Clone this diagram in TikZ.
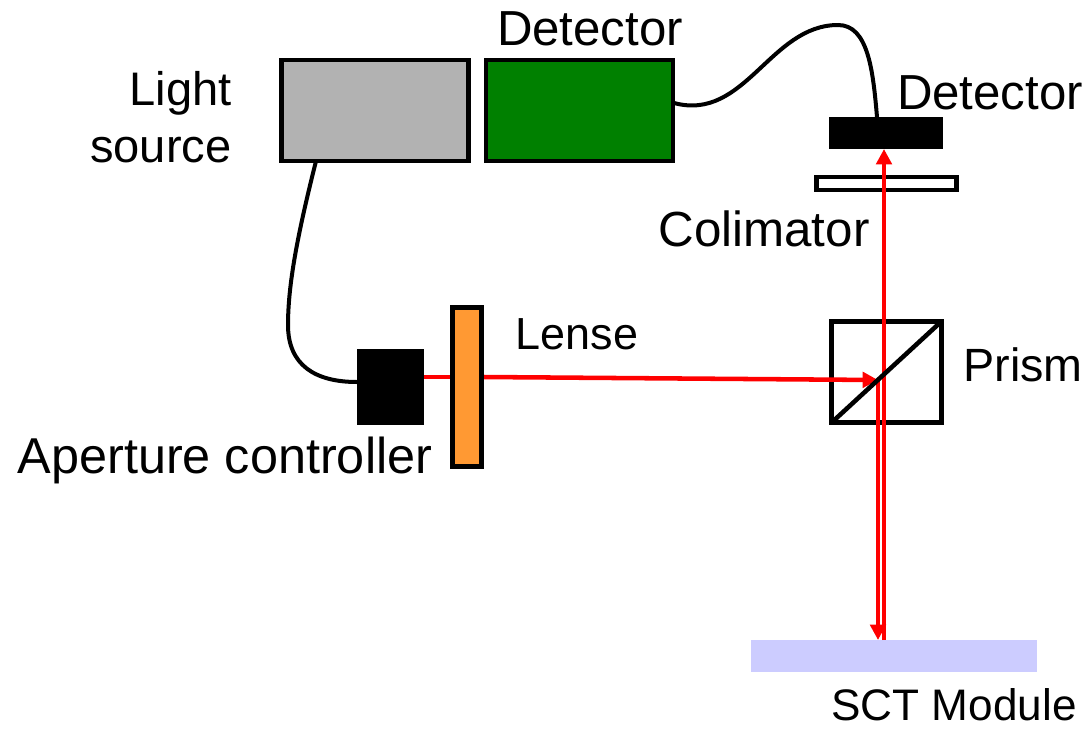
\documentclass[tikz,border=0pt]{standalone}
\usepackage{fontspec}
\setmainfont{Liberation Sans}
\usetikzlibrary{arrows.meta}

\definecolor{srcgray}{RGB}{178,178,178}
\definecolor{detgreen}{RGB}{0,128,0}
\definecolor{lensorange}{RGB}{255,153,51}
\definecolor{modblue}{RGB}{204,204,255}

\tikzset{every picture/.style={line width=0.75pt}}
\tikzset{
	part/.style={draw=black,line width=3.4pt,outer sep=0pt,inner sep=0pt,minimum width=#1},
	solid part/.style={fill=black,outer sep=0pt,inner sep=0pt,minimum width=#1},
	label text/.style={inner sep=0.75pt,font=\fontsize{#1}{43}\selectfont},
	cable/.style={draw=black,line width=3pt},
	ray/.style={draw=red,line width=3.4pt},
	ray tip/.style={-{Triangle[length=11.5pt,width=11.5pt]}}
}

\begin{document}
\begin{tikzpicture}[x=0.75pt,y=0.75pt,yscale=-1,xscale=1]
		\useasboundingbox (0,0) rectangle (1088,728);

		%Shape: Boxes
		\node [part=140.5pt,minimum height=75.5pt,fill=srcgray] (source) at (375,110.5) {};
		\node [part=140.5pt,minimum height=75.5pt,fill=detgreen] (box) at (579.5,110.5) {};
		\node [solid part=85pt,minimum height=24pt] (detector) at (886,133) {};
		\node [part=105pt,minimum height=9.5pt,fill=white] (colimator) at (886.5,183.5) {};
		\node [solid part=50pt,minimum height=57pt] (aperture) at (390.5,387) {};
		\node [part=82.5pt,minimum height=76pt] (prism) at (886.5,372) {};
		\node [solid part=215pt,minimum height=24pt,fill=modblue] (module) at (894,656) {};

		%Straight Lines: rays
		\coordinate (split) at (878,380);
		\draw [ray] (aperture.east |- 0,377) -- (451,377);
		\draw [ray,ray tip] (483,377) -- (split);
		\draw [ray,ray tip] (split) -- (split |- module.north);
		\draw [ray,ray tip] (884,640) -- (884,149);

		%Shape: Lense
		\node [part=22pt,minimum height=119.5pt,fill=lensorange] (lense) at (467,387) {};
		%Straight Lines: prism diagonal
		\draw [line width=3.4pt] (prism.south west) -- (prism.north east);

		%Curve Lines
		\coordinate (srcout) at (316,161);
		\coordinate (apin) at (357,382);
		\coordinate (boxout) at (674,103);
		\coordinate (detin) at (877,117);
		\draw [cable] (srcout) .. controls (300,225) and (288,280) .. (288,325) .. controls (288,365) and (315,382) .. (apin);
		\draw [cable] (boxout) .. controls (745,122) and (770,25) .. (838,25) .. controls (868,25) and (873,70) .. (detin);

		% Text Node
		\draw (233,117) node [anchor=east,align=right][label text=35.3] (lblsource) {Light\\source};
		% Text Node
		\draw (590,29) node [label text=36.9] (lblbox) {Detector};
		% Text Node
		\draw (990,93) node [label text=36.9] (lbldetector) {Detector};
		% Text Node
		\draw (764,229) node [label text=37] (lblcolimator) {Colimator};
		% Text Node
		\draw (577,334) node [label text=33.7] (lbllense) {Lense};
		% Text Node
		\draw (1023,365) node [label text=35] (lblprism) {Prism};
		% Text Node
		\draw (225,460) node [label text=37.8] (lblaperture) {Aperture controller};
		% Text Node
		\draw (954,705) node [label text=33.1] (lblmodule) {SCT Module};

	\end{tikzpicture}
\end{document}
